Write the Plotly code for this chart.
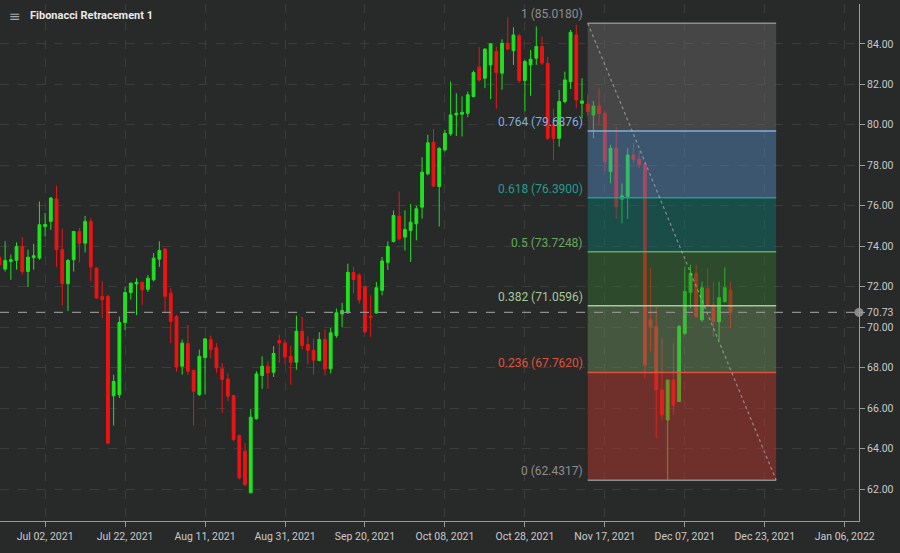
import plotly.graph_objects as go

# ---------------- data ----------------
opens = [73.46, 72.87, 73.25, 73.30, 73.99, 72.75, 73.43, 73.41, 74.97, 75.23,
         76.35, 73.83, 72.15, 73.33, 74.73, 74.15, 75.23, 72.92, 71.52, 71.52,
         66.61, 66.66, 70.23, 71.71, 72.14, 72.22, 71.87, 72.34, 73.36, 73.86,
         71.68, 70.53, 68.07, 69.19, 67.87, 66.67, 68.50, 69.39, 68.98, 67.94,
         67.44, 66.62, 64.64, 63.87, 61.81, 65.47, 67.61, 68.07, 67.77, 69.34,
         69.22, 68.56, 68.27, 69.80, 69.14, 68.86, 68.35, 69.39, 67.94, 69.58,
         70.65, 70.71, 72.70, 72.58, 71.99, 70.54, 70.70, 71.82, 73.20, 74.23,
         75.49, 74.45, 74.78, 75.11, 75.93, 77.58, 79.14, 76.95, 78.76, 79.55,
         80.49, 80.52, 80.57, 81.40, 82.85, 82.30, 82.96, 83.62, 82.55, 84.03,
         83.67, 84.40, 82.19, 82.96, 83.29, 83.87, 83.04, 80.00, 79.33, 81.15,
         82.13, 84.44, 81.06, 81.03, 80.48, 80.93, 80.57, 77.69, 78.84, 76.32,
         76.45, 78.51, 78.31, 78.05, 70.36, 70.03, 66.90, 65.41, 67.39, 66.32,
         69.70, 71.72, 72.66, 70.36, 71.92, 71.10, 70.27, 71.26, 71.84]
highs = [73.60, 74.24, 73.58, 74.19, 74.45, 73.83, 74.12, 76.21, 75.64, 76.43,
         76.99, 74.86, 73.36, 74.73, 74.90, 75.50, 75.40, 72.95, 72.26, 71.60,
         67.65, 70.53, 72.00, 72.20, 72.42, 72.25, 72.58, 73.66, 74.24, 73.91,
         71.93, 70.61, 69.38, 70.11, 67.87, 68.89, 69.47, 69.58, 69.22, 68.23,
         67.71, 66.62, 64.69, 64.28, 65.96, 67.82, 68.56, 68.32, 69.06, 69.63,
         69.39, 69.06, 70.57, 70.51, 69.55, 69.42, 69.75, 69.88, 69.96, 70.92,
         71.20, 73.14, 72.99, 72.66, 72.07, 71.57, 72.23, 73.47, 74.24, 75.77,
         76.70, 75.77, 76.09, 76.00, 78.40, 79.51, 79.80, 78.89, 79.75, 82.14,
         81.56, 81.40, 81.64, 82.68, 83.84, 83.79, 84.03, 83.87, 84.23, 85.30,
         84.82, 84.49, 83.21, 83.70, 84.86, 84.36, 83.37, 80.80, 81.72, 82.63,
         84.69, 84.94, 82.30, 81.50, 81.18, 81.80, 80.70, 79.00, 79.91, 77.11,
         78.84, 79.10, 78.73, 78.10, 72.91, 71.02, 69.45, 67.39, 69.20, 70.11,
         72.99, 73.08, 73.08, 72.25, 72.91, 72.25, 72.25, 72.96, 72.25]
lows = [72.90, 72.75, 72.34, 72.84, 72.60, 71.98, 72.84, 73.33, 74.48, 74.81,
        72.98, 71.07, 70.79, 72.75, 73.20, 73.69, 72.26, 71.40, 70.45, 64.20,
        65.13, 66.50, 69.85, 71.36, 70.60, 71.10, 71.74, 72.26, 72.97, 70.77,
        69.21, 67.80, 67.65, 67.65, 65.14, 66.59, 66.67, 68.48, 67.74, 65.76,
        66.34, 64.36, 62.47, 62.14, 61.81, 65.44, 66.95, 66.95, 67.54, 68.23,
        68.18, 67.16, 67.90, 68.89, 68.15, 67.66, 68.33, 67.61, 67.71, 69.47,
        70.01, 70.66, 71.67, 71.17, 69.69, 69.52, 70.66, 71.57, 72.83, 74.19,
        74.29, 73.79, 73.22, 74.29, 75.36, 77.50, 76.92, 74.97, 78.68, 79.45,
        79.45, 79.42, 80.38, 81.36, 82.14, 81.81, 81.27, 80.79, 81.73, 83.70,
        82.96, 82.06, 80.66, 81.43, 82.96, 82.96, 79.25, 78.26, 78.92, 81.06,
        81.77, 80.82, 80.32, 80.45, 79.33, 80.00, 77.70, 77.11, 75.35, 75.13,
        75.35, 78.10, 77.85, 67.47, 68.80, 64.51, 65.41, 62.45, 65.66, 66.32,
        69.62, 70.93, 70.44, 70.27, 71.00, 69.53, 69.37, 71.23, 69.94]
closes = [73.08, 73.30, 73.33, 73.99, 72.75, 73.46, 73.53, 75.06, 75.08, 76.38,
          73.83, 72.15, 73.30, 74.73, 74.15, 75.23, 72.97, 71.44, 71.36, 64.27,
          67.32, 70.23, 71.71, 72.17, 72.22, 71.85, 72.42, 73.41, 73.79, 71.52,
          70.28, 68.03, 69.21, 67.82, 66.83, 68.56, 69.42, 68.89, 67.99, 67.41,
          66.59, 64.44, 62.55, 62.22, 65.55, 67.69, 68.07, 67.74, 68.70, 69.22,
          68.53, 68.27, 69.80, 69.09, 68.86, 68.37, 69.39, 67.94, 69.72, 70.71,
          70.82, 72.71, 72.35, 71.34, 69.77, 70.47, 71.95, 73.27, 73.99, 75.52,
          74.37, 74.83, 75.19, 75.85, 77.66, 79.11, 76.97, 78.84, 79.58, 80.49,
          80.57, 80.62, 81.48, 82.58, 82.22, 83.74, 84.00, 82.58, 84.03, 83.74,
          84.44, 82.19, 83.13, 83.24, 83.87, 83.05, 79.33, 79.33, 81.15, 82.22,
          84.57, 81.23, 81.18, 80.65, 80.93, 80.56, 78.18, 78.84, 75.95, 76.49,
          78.51, 78.30, 78.02, 68.13, 70.03, 66.90, 65.66, 67.39, 66.15, 70.03,
          71.76, 72.66, 70.52, 71.95, 71.10, 70.27, 71.46, 71.95, 70.73]
slots = list(range(len(opens)))   # one slot per trading day, first = Jun 22, 2021

tick_slots = [8, 22, 36, 50, 64, 78, 92, 106, 120, 134, 148]
tick_labels = ["Jul 02, 2021", "Jul 22, 2021", "Aug 11, 2021", "Aug 31, 2021",
               "Sep 20, 2021", "Oct 08, 2021", "Oct 28, 2021", "Nov 17, 2021",
               "Dec 07, 2021", "Dec 23, 2021", "Jan 06, 2022"]
price_ticks = [62, 64, 66, 68, 70, 72, 74, 76, 78, 80, 82, 84]

fib_ratios = ["1", "0.764", "0.618", "0.5", "0.382", "0.236", "0"]
fib_values = [85.0180, 79.6876, 76.3900, 73.7248, 71.0596, 67.7620, 62.4317]
fib_slot_start = 103
fib_slot_end = 136

# ---------------- styles ----------------
BG = "#282929"
GRID = "#3b3c3c"
AXIS = "#9a9a9a"
TXT = "#c9c9c9"
GREEN = "#1ee31e"
RED = "#ec1414"
FONT = "Roboto, sans-serif"
LABEL_FONT = "Roboto, Open Sans, sans-serif"

line_colors = ["#8d8d8d", "#7fb0de", "#1f9e90", "#64a85c", "#a6c89c", "#e0513c", "#8d8d8d"]
band_fills = ["rgba(107,107,107,0.45)", "rgba(82,142,196,0.45)", "rgba(9,120,111,0.45)",
              "rgba(53,116,49,0.45)", "rgba(107,144,91,0.45)", "rgba(198,56,44,0.45)"]

last_price = closes[-1]
x_range = [0.1, 150.5]
y_range = [60.42, 85.97]

fig = go.Figure()
fig.add_trace(go.Candlestick(
    x=slots, open=opens, high=highs, low=lows, close=closes,
    increasing=dict(line=dict(color=GREEN, width=1), fillcolor=GREEN),
    decreasing=dict(line=dict(color=RED, width=1), fillcolor=RED),
    whiskerwidth=0, showlegend=False, hoverinfo="skip"))

shapes = []
# Fibonacci bands
for i in range(len(fib_values) - 1):
    shapes.append(dict(type="rect", xref="x", yref="y", layer="above",
                       x0=fib_slot_start, x1=fib_slot_end,
                       y0=fib_values[i + 1], y1=fib_values[i],
                       fillcolor=band_fills[i], line=dict(width=0)))
# Fibonacci level lines
for v, c in zip(fib_values, line_colors):
    shapes.append(dict(type="line", xref="x", yref="y", layer="above",
                       x0=fib_slot_start, x1=fib_slot_end, y0=v, y1=v,
                       line=dict(color=c, width=1.5)))
# trend (diagonal) line
shapes.append(dict(type="line", xref="x", yref="y", layer="above",
                   x0=fib_slot_start, x1=fib_slot_end, y0=fib_values[0], y1=fib_values[-1],
                   line=dict(color="rgba(190,190,190,0.6)", width=1.2, dash="3px,3px")))
# last price line
shapes.append(dict(type="line", xref="paper", yref="y", layer="above",
                   x0=0, x1=1, y0=last_price, y1=last_price,
                   line=dict(color="#8e8e8e", width=1.2, dash="dash")))

annotations = []
for r, v, c in zip(fib_ratios, fib_values, line_colors):
    annotations.append(dict(x=fib_slot_start, y=v, xref="x", yref="y",
                            text=f"{r} ({v:.4f})", showarrow=False,
                            xanchor="right", yanchor="bottom", xshift=-3, yshift=0,
                            font=dict(family=LABEL_FONT, size=12, color=c)))
annotations.append(dict(x=28 / 859, y=0.977, xref="paper", yref="paper",
                        text="<b>Fibonacci Retracement 1</b>", showarrow=False,
                        xanchor="left", yanchor="middle",
                        font=dict(family=LABEL_FONT, size=11, color="#e8e8e8")))
annotations.append(dict(x=15 / 859, y=0.977, xref="paper", yref="paper",
                        text="≡", showarrow=False, xanchor="center", yanchor="middle",
                        font=dict(family="DejaVu Sans", size=14, color="#a8a8a8")))

# dot on the price axis
fig.add_trace(go.Scatter(x=[x_range[1]], y=[last_price], mode="markers",
                         marker=dict(color="#8a8a8a", size=9),
                         cliponaxis=False, showlegend=False, hoverinfo="skip"))

fig.update_layout(
    width=900, height=553,
    paper_bgcolor=BG, plot_bgcolor=BG,
    margin=dict(l=0, r=41, t=4, b=32, autoexpand=False),
    shapes=shapes, annotations=annotations,
    showlegend=False,
    xaxis=dict(range=x_range, tickvals=tick_slots, ticktext=tick_labels,
               showline=True, linecolor=AXIS, linewidth=1,
               ticks="outside", ticklen=5, tickcolor=AXIS,
               tickfont=dict(family=FONT, size=10.5, color=TXT),
               showgrid=True, gridcolor=GRID, griddash="dash", gridwidth=1,
               zeroline=False, rangeslider=dict(visible=False), fixedrange=True,
               automargin=False),
    yaxis=dict(range=y_range, side="right",
               tickvals=price_ticks + [last_price],
               ticktext=[f"{p:.2f}" for p in price_ticks] + [f"{last_price:.2f}"],
               showline=True, linecolor=AXIS, linewidth=1,
               ticks="outside", ticklen=5, tickcolor=AXIS,
               tickfont=dict(family=FONT, size=10.5, color=TXT),
               showgrid=True, gridcolor=GRID, griddash="dash", gridwidth=1,
               zeroline=False, fixedrange=True, automargin=False),
)

fig.write_html("out.html", config={"displayModeBar": False},
               post_script="document.body.style.margin='0';document.body.style.overflow='hidden';"
                           "document.body.style.background='" + BG + "';")
